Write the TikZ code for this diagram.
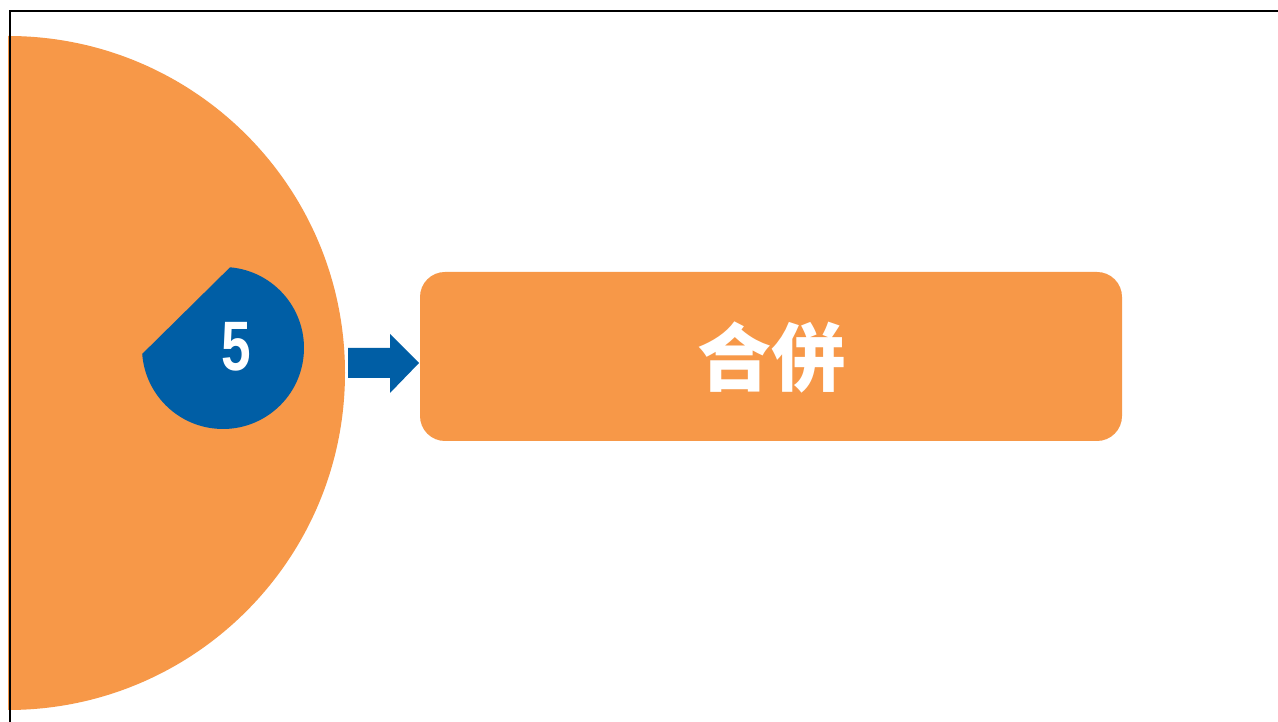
\documentclass[tikz,border=0pt]{standalone}
\usepackage{fontspec}
\setmainfont{Liberation Sans}
\newfontfamily\cjk{Noto Sans CJK SC}
\definecolor{orng}{RGB}{247,152,72}
\definecolor{blu}{RGB}{0,94,165}
\begin{document}
\begin{tikzpicture}[x=1pt,y=1pt,
  numtext/.style={text=white,font=\fontsize{70}{70}\selectfont\bfseries,inner sep=0pt},
  boxstyle/.style={fill=orng,rounded corners=25pt,minimum width=702pt,minimum height=169pt,inner sep=0pt},
  titletext/.style={text=white,font=\cjk\bfseries\fontsize{74}{74}\selectfont}]
\useasboundingbox (0,0) rectangle (1278,722);
\fill[white] (0,0) rectangle (1278,722);
% orange half disc
\fill[orng] (8,686) arc[start angle=90,end angle=-90,radius=337] -- cycle;
% blue badge
\fill[blu] (223,374) ++(85:81) arc[start angle=85,end angle=-175.8,radius=81] -- cycle;
\node[numtext] (num) at (236,375) {\scalebox{0.76}[1]{5}};
% block arrow
\fill[blu] (348,344) -- (390,344) -- (390,329) -- (419,359) -- (390,388) -- (390,374) -- (348,374) -- cycle;
% box
\node[boxstyle] (box) at (771,365.5) {};
\node[titletext] (title) at (771,365) {合併};
% frame lines
\draw[line width=2pt,black] (10,0) -- (10,711) -- (1278,711);
\end{tikzpicture}
\end{document}
